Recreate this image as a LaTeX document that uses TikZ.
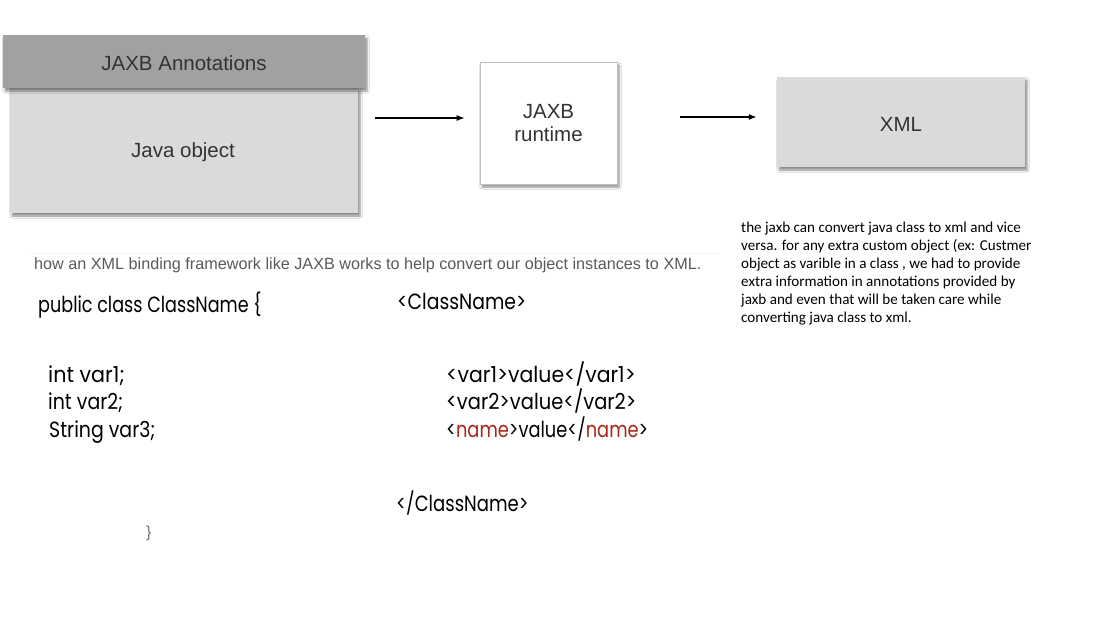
\documentclass[tikz,border=0pt]{standalone}
\usepackage{fontspec}
\setmainfont{Liberation Sans}
\newfontfamily\calib{Carlito}
\newfontfamily\geo{Poppins}
\usetikzlibrary{shadows.blur,arrows.meta}
\definecolor{bandgray}{HTML}{A0A1A0}
\definecolor{lightbox}{HTML}{D9DADB}
\definecolor{captiongray}{HTML}{5A5A5A}
\definecolor{tagred}{HTML}{A8281C}
\definecolor{txtgray}{HTML}{333333}
\newcommand{\cdx}[2][0.8]{\scalebox{#1}[1]{#2}}
\tikzset{
  boxlabel/.style={font=\fontsize{20.5}{23}\selectfont, text=txtgray, align=center, inner sep=0pt},
  shd/.style={blur shadow={shadow xshift=2pt, shadow yshift=-3pt, shadow blur steps=6, shadow opacity=45}},
  arr/.style={-{Latex[length=8pt,width=6pt]}, line width=1.2pt, black},
  code/.style={anchor=base west, inner sep=0pt, font=\geo\fontsize{22}{26}\selectfont, text=black}
}
\begin{document}
\begin{tikzpicture}[x=1pt,y=-1pt]
\useasboundingbox (0,0) rectangle (1101,618);
\fill[white] (0,0) rectangle (1101,618);

% Java object with annotations band
\node[shd, fill=lightbox, minimum width=348pt, minimum height=125pt, inner sep=0pt] (jo) at (184,150.5) {};
\node[boxlabel] (jot) at (183,152) {Java object};
\node[boxlabel, shd, fill=bandgray, minimum width=362pt, minimum height=53pt] (ann) at (184,61.5) {};
\node[boxlabel] (annt) at (184,63) {JAXB Annotations};

% runtime
\node[boxlabel, shd, fill=white, draw=black!25, line width=0.6pt, minimum width=137pt, minimum height=122pt] (rt) at (548.5,123) {JAXB\\runtime};

% XML
\node[shd, fill=lightbox, minimum width=248pt, minimum height=90pt, inner sep=0pt] (xml) at (901,122) {};
\node[boxlabel] (xmlt) at (901,124) {XML};

% arrows
\draw[arr] ([xshift=17pt,yshift=5pt]jo.east |- rt.center) -- ([xshift=-15pt,yshift=5pt]rt.west);
\draw[arr] ([xshift=63pt,yshift=6pt]rt.east) -- ([xshift=-20pt,yshift=5pt]xml.west);

% caption
\draw[black!6, line width=0.8pt] (30,253) -- (720,253);
\node[anchor=base west, inner sep=0pt, text=captiongray, font=\fontsize{16.2}{18}\selectfont] (cap) at (34,269)
  {how an XML binding framework like JAXB works to help convert our object instances to XML.};

% note
\node[anchor=north west, inner sep=0pt, align=left, font=\calib\fontsize{15.1}{18}\selectfont] (note) at (741,222)
  {the jaxb can convert java class to xml and vice\\
   versa. for any extra custom object (ex: Custmer\\
   object as varible in a class , we had to provide\\
   extra information in annotations provided by\\
   jaxb and even that will be taken care while\\
   converting java class to xml.};

% code
\node[code] (c1) at (38,312) {\cdx[0.8]{public class ClassName \{}};
\node[code] (c2) at (48,382) {\cdx[0.94]{int var1;}};
\node[code] (c3) at (48,409) {\cdx[0.86]{int var2;}};
\node[code] (c4) at (49,437) {\cdx[0.86]{String var3;}};
\node[code, text=black!55, font=\fontsize{16}{18}\selectfont] (c5) at (146,537) {\}};

% xml
\node[code] (x1) at (397,309) {\cdx[0.855]{<ClassName>}};
\node[code] (x2) at (446,382) {\cdx[0.93]{<var1>value</var1>}};
\node[code] (x3) at (446,409) {\cdx[0.884]{<var2>value</var2>}};
\node[code] (x4) at (446,437) {\cdx[0.81]{<\textcolor{tagred}{name}>value</\textcolor{tagred}{name}>}};
\node[code] (x5) at (396,511) {\cdx[0.82]{</ClassName>}};
\end{tikzpicture}
\end{document}
